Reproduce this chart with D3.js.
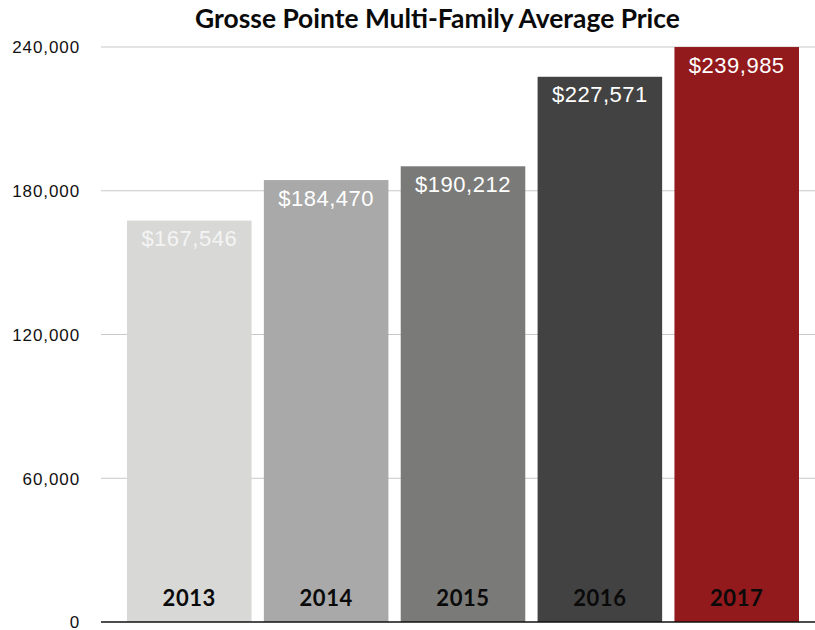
<!DOCTYPE html>
<html>
<head>
<meta charset="utf-8">
<script src="https://cdn.jsdelivr.net/npm/d3@7"></script>
<style>
  html, body { margin: 0; padding: 0; background: #fff; }
  svg { display: block; }
</style>
</head>
<body>
<svg id="chart" width="815" height="630"></svg>
<script>
const title = "Grosse Pointe Multi-Family Average Price";
const years = ["2013", "2014", "2015", "2016", "2017"];
const prices = [167546, 184470, 190212, 227571, 239985];
const barColors = ["#d8d8d6", "#a8a9a8", "#7a7a78", "#424242", "#92191c"];
const yTicks = [0, 60000, 120000, 180000, 240000];

(function () {
const svg = d3.select("#chart");
const plotLeft = 101, plotRight = 815, plotTop = 47, plotBottom = 622;

const x = d3.scaleBand().domain(years).range([127, 799]).paddingInner(0.09).paddingOuter(0);
const y = d3.scaleLinear().domain([0, 240000]).range([plotBottom, plotTop]);

// gridlines
svg.append("g").selectAll("line").data(yTicks.filter(d => d > 0)).join("line")
  .attr("x1", plotLeft).attr("x2", plotRight)
  .attr("y1", d => y(d)).attr("y2", d => y(d))
  .attr("stroke", "#c8c8c8").attr("stroke-width", 1.2);

// y axis labels
const yAxis = d3.axisLeft(y).tickValues(yTicks).tickSize(0).tickPadding(0)
  .tickFormat(d => d3.format(",")(d));
const ga = svg.append("g").attr("transform", "translate(80,0)").call(yAxis);
ga.select(".domain").remove();
ga.selectAll("text")
  .attr("font-family", "'Liberation Sans', Arial, Helvetica, sans-serif")
  .attr("font-size", 17).attr("letter-spacing", "0.9px")
  .attr("fill", "#111").attr("dy", "0.34em");

// bars
svg.append("g").selectAll("rect").data(years).join("rect")
  .attr("x", d => x(d)).attr("width", x.bandwidth())
  .attr("y", (d, i) => y(prices[i])).attr("height", (d, i) => y(0) - y(prices[i]))
  .attr("fill", (d, i) => barColors[i]);

// value labels
svg.append("g").selectAll("text").data(years).join("text")
  .attr("x", d => x(d) + x.bandwidth() / 2)
  .attr("y", (d, i) => y(prices[i]) + 25.5)
  .attr("text-anchor", "middle")
  .attr("font-family", "'Liberation Sans', Arial, Helvetica, sans-serif")
  .attr("font-size", 22).attr("letter-spacing", "0.5px")
  .attr("fill", (d, i) => i === 0 ? "#f4f4f4" : "#ffffff")
  .text((d, i) => "$" + d3.format(",")(prices[i]));

// year labels
svg.append("g").selectAll("text").data(years).join("text")
  .attr("x", d => x(d) + x.bandwidth() / 2)
  .attr("y", 606)
  .attr("text-anchor", "middle")
  .attr("font-family", "Lato, 'Open Sans', sans-serif")
  .attr("font-weight", "bold")
  .attr("font-size", 22).attr("letter-spacing", "0.6px")
  .attr("fill", "#0a0a0a")
  .text(d => d);

// baseline
svg.append("line").attr("x1", plotLeft).attr("x2", plotRight)
  .attr("y1", y(0)).attr("y2", y(0))
  .attr("stroke", "#111").attr("stroke-width", 1.6);

// title
svg.append("text").attr("x", 437.5).attr("y", 28)
  .attr("text-anchor", "middle")
  .attr("font-family", "Lato, 'Open Sans', sans-serif")
  .attr("font-weight", "bold").attr("font-size", 26.4)
  .attr("fill", "#0a0a0a")
  .text(title);
})();
</script>
</body>
</html>
